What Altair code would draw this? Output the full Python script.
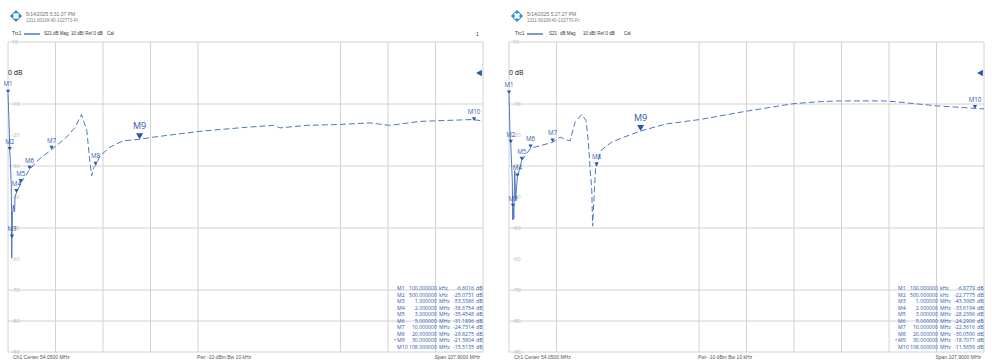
import altair as alt
import pandas as pd

# ---------------- data ----------------
START_MHZ = 0.1
STOP_MHZ = 108.0

marker_names = ["M1", "M2", "M3", "M4", "M5", "M6", "M7", "M8", "M9", "M10"]
marker_freq_mhz = [0.1, 0.5, 1, 2, 3, 5, 10, 20, 30, 108]
marker_stim_text = ["100.000000", "500.000000", "1.000000", "2.000000", "3.000000",
                    "5.000000", "10.000000", "20.000000", "30.000000", "108.000000"]
marker_stim_unit = ["kHz", "kHz", "MHz", "MHz", "MHz", "MHz", "MHz", "MHz", "MHz", "MHz"]
left_marker_db = [-6.6016, -25.0731, -53.3386, -38.6754, -35.4548,
                  -31.1896, -24.7314, -29.8275, -21.3804, -15.5135]
right_marker_db = [-6.8779, -22.7775, -43.3985, -33.6194, -28.2396,
                   -24.2906, -22.3616, -30.0590, -18.7071, -11.5659]

left_trace_freq = [0.1, 0.3, 0.42, 0.5, 0.65, 0.84, 0.9, 0.95, 1.0, 1.1, 1.3, 1.6, 1.7, 2.0,
                   3.0, 5.0, 7.0, 10.0, 13.4, 15.3, 16.8, 18.0, 18.6, 19.1, 19.6, 20.0, 21.0,
                   23.3, 26.2, 30.0, 33.1, 43.7, 54.3, 60.4, 61.9, 68.0, 75.5, 82.3, 86.9,
                   93.7, 99.8, 105.8, 108.0]
left_trace_db = [-6.6, -14.8, -19.4, -25.07, -29.0, -36.1, -44.0, -59.7, -53.34, -46.0, -42.6,
                 -44.8, -40.0, -38.68, -35.45, -31.19, -28.0, -24.73, -20.7, -17.6, -13.4,
                 -18.6, -27.3, -33.2, -30.5, -29.83, -26.7, -23.9, -21.9, -21.38, -20.7,
                 -18.8, -17.5, -16.9, -17.7, -16.9, -16.6, -16.1, -16.9, -15.6, -15.3,
                 -15.0, -15.51]

right_trace_freq = [0.1, 0.3, 0.4, 0.5, 0.6, 0.85, 0.95, 1.0, 1.2, 1.4, 1.6, 2.0, 3.0, 5.0,
                    10.0, 11.7, 13.2, 14.0, 15.1, 16.6, 17.6, 18.1, 18.5, 18.9, 19.1, 19.5,
                    19.8, 20.0, 21.0, 23.3, 26.2, 30.0, 35.9, 43.5, 54.1, 64.7, 70.0, 75.3,
                    85.1, 88.2, 97.2, 106.0, 108.0]
right_trace_db = [-6.88, -18.4, -21.6, -22.78, -26.5, -34.5, -47.4, -43.4, -47.0, -31.5,
                  -41.0, -33.62, -28.24, -24.29, -22.36, -20.7, -21.6, -21.8, -15.9, -13.4,
                  -15.3, -21.8, -30.5, -37.7, -49.4, -37.7, -29.6, -30.06, -25.0, -22.4,
                  -20.7, -18.71, -16.4, -15.0, -12.3, -9.9, -9.3, -9.0, -9.0, -9.3, -10.6,
                  -11.4, -11.57]

y_tick_values = [10, -10, -20, -30, -40, -50, -60, -70, -80, -90]
y_tick_labels = ["10", "-10", "-20", "-30", "-40", "-50", "-60", "-70", "-80", "-90"]
h_grid_db = [10, -10, -30, -50, -70, -80, -90]
left_vgrid_div = [0, 1, 2, 3, 4, 7, 8, 9, 10]
right_vgrid_div = [0, 1, 4, 5, 6, 7, 8, 9, 10]

# ---------------- style / layout ----------------
FONT = "Open Sans"
HFONT = "Liberation Sans"
TRACE = "#4f76c6"
MK = "#2b56ad"
GRID = "#d2d2d2"
PANEL_W, PANEL_H = 496, 361
PLOT_W = 475
PLOT_TOP = 42
PX_PER_DB = 3.1
DB_TOP, DB_BOT = 10, -90
ONE = pd.DataFrame({"a": [0]})


def txt(s, x, y, size=5.0, color="#555555", align="left", baseline="middle", font=FONT, **kw):
    return alt.Chart(pd.DataFrame({"t": [s]})).mark_text(
        align=align, baseline=baseline, fontSize=size, color=color, font=font, **kw
    ).encode(x=alt.value(x), y=alt.value(y), text="t:N")


def panel(trace_f, trace_db, mk_db, plot_left, stamp, hdr, vgrid_div, chan_no):
    k = (STOP_MHZ - START_MHZ) / PLOT_W
    xdom = [START_MHZ - plot_left * k, STOP_MHZ + (PANEL_W - plot_left - PLOT_W) * k]
    plot_h = (DB_TOP - DB_BOT) * PX_PER_DB
    ydom = [DB_BOT - (PANEL_H - PLOT_TOP - plot_h) / PX_PER_DB, DB_TOP + PLOT_TOP / PX_PER_DB]
    xs = alt.Scale(domain=xdom, nice=False, zero=False)
    ys = alt.Scale(domain=ydom, nice=False, zero=False)

    def X(f):
        return alt.X(f, type="quantitative", scale=xs, axis=None)

    def Y(f):
        return alt.Y(f, type="quantitative", scale=ys, axis=None)

    layers = []
    # grid
    dv = pd.DataFrame({"f": [START_MHZ + d * (STOP_MHZ - START_MHZ) / 10 for d in vgrid_div],
                       "top": DB_TOP, "bot": DB_BOT})
    layers.append(alt.Chart(dv).mark_rule(color=GRID, strokeWidth=1).encode(
        x=X("f"), y=Y("top"), y2="bot:Q"))
    dh = pd.DataFrame({"db": h_grid_db, "f0": START_MHZ, "f1": STOP_MHZ})
    layers.append(alt.Chart(dh).mark_rule(color=GRID, strokeWidth=1).encode(
        y=Y("db"), x=X("f0"), x2="f1:Q"))
    # tick labels
    dt = pd.DataFrame({"v": y_tick_values, "lab": y_tick_labels})
    layers.append(alt.Chart(dt).mark_text(align="left", baseline="middle", fontSize=5.5,
                                          color="#b4b4b4", font=FONT).encode(
        x=alt.value(plot_left + 3.5), y=Y("v"), text="lab:N"))
    layers.append(txt("0 dB", plot_left, 73, size=7, color="#111111"))

    # trace
    dtr = pd.DataFrame({"f": trace_f, "db": trace_db, "i": list(range(len(trace_f)))})
    base_t = alt.Chart(dtr)
    layers.append(base_t.transform_filter("datum.f <= 3").mark_line(
        color=TRACE, strokeWidth=1).encode(x=X("f"), y=Y("db"), order="i:Q"))
    layers.append(base_t.transform_filter("datum.f >= 3").mark_line(
        color=TRACE, strokeWidth=1, strokeDash=[6, 3]).encode(x=X("f"), y=Y("db"), order="i:Q"))

    # reference level triangle
    dref = pd.DataFrame({"f": [STOP_MHZ], "db": [0]})
    layers.append(alt.Chart(dref).mark_point(shape="triangle-left", filled=True, size=45,
                                             color=MK, opacity=1, xOffset=-4).encode(
        x=X("f"), y=Y("db")))

    # markers
    dm = pd.DataFrame({"name": marker_names, "f": marker_freq_mhz, "db": mk_db})
    bm = alt.Chart(dm)
    normal = "datum.name != 'M9' && datum.name != 'M10'"
    layers.append(bm.transform_filter(normal).mark_point(
        shape="triangle-down", filled=True, size=18, color=MK, opacity=1, yOffset=-2).encode(
        x=X("f"), y=Y("db")))
    layers.append(bm.transform_filter(normal).mark_text(
        dy=-9, fontSize=6.2, color=MK, font=FONT).encode(x=X("f"), y=Y("db"), text="name:N"))
    layers.append(bm.transform_filter("datum.name == 'M10'").mark_point(
        shape="triangle-down", filled=True, size=18, color=MK, opacity=1, yOffset=-2,
        xOffset=-9).encode(x=X("f"), y=Y("db")))
    layers.append(bm.transform_filter("datum.name == 'M10'").mark_text(
        dy=-9, dx=-9, fontSize=6.2, color=MK, font=FONT).encode(
        x=X("f"), y=Y("db"), text="name:N"))
    layers.append(bm.transform_filter("datum.name == 'M9'").mark_point(
        shape="triangle-down", filled=True, size=50, color=MK, opacity=1, yOffset=-3).encode(
        x=X("f"), y=Y("db")))
    layers.append(bm.transform_filter("datum.name == 'M9'").mark_text(
        dy=-13, fontSize=9, color=MK, font=FONT).encode(x=X("f"), y=Y("db"), text="name:N"))

    # marker table (one multi-line text per column)
    t_top, rh = 286, 6.5
    columns = [
        ("\n".join(marker_names), "left", 389),
        ("\n".join(marker_stim_text), "right", 429),
        ("\n".join(marker_stim_unit), "left", 431),
        ("\n".join(f"{v:.4f}" for v in mk_db), "right", 466),
        ("\n".join("dB" for _ in mk_db), "left", 468),
    ]
    for s, al, dx in columns:
        layers.append(txt(s, plot_left + dx, t_top, size=5.2, color=MK, align=al,
                          baseline="top", lineBreak="\n", lineHeight=rh))
    layers.append(txt("\u2022", plot_left + 388, t_top + rh * marker_names.index("M9"),
                      size=5.2, color=MK, align="right", baseline="top"))

    # header
    lx, ly = hdr["logo"]
    layers.append(alt.Chart(ONE).mark_point(
        shape="diamond", filled=True, size=150, color="#2e8fd6", opacity=1).encode(
        x=alt.value(lx), y=alt.value(ly)))
    layers.append(alt.Chart(ONE).mark_point(
        shape="cross", filled=True, size=45, color="#ffffff", opacity=1, angle=45).encode(
        x=alt.value(lx), y=alt.value(ly)))
    layers.append(txt(stamp[0], hdr["date"], 14, size=5, color="#707070", font=HFONT))
    layers.append(txt(stamp[1], hdr["date"], 21, size=4.6, color="#808080", font=HFONT))
    layers.append(txt("Trc1", hdr["trc"], 34, size=4.8, color="#333333", font=HFONT))
    layers.append(alt.Chart(ONE).mark_rule(color=TRACE, strokeWidth=1.5).encode(
        x=alt.value(hdr["line"][0]), x2=alt.value(hdr["line"][1]), y=alt.value(34)))
    layers.append(txt("S21", hdr["s21"], 34, size=4.5, color="#333333", font=HFONT))
    layers.append(txt("dB Mag", hdr["mag"], 34, size=4.5, color="#333333", font=HFONT))
    layers.append(txt("10 dB/ Ref 0 dB", hdr["ref"], 34, size=4.5, color="#333333", font=HFONT))
    layers.append(txt("Cal", hdr["cal"], 34, size=4.5, color="#333333", font=HFONT))
    if chan_no:
        layers.append(txt("1", plot_left + 468, 34, size=5, color="#333333", font=HFONT))

    # footer
    layers.append(txt("Ch1  Center  54.0500 MHz", plot_left + 5, 357, size=5, font=HFONT))
    layers.append(txt("Pwr  -10 dBm   Bw  10 kHz", plot_left + 189, 357, size=5, font=HFONT))
    layers.append(txt("Span  107.9000 MHz", plot_left + PLOT_W - 3, 357, size=5, align="right",
                      font=HFONT))

    return alt.layer(*layers).properties(width=PANEL_W, height=PANEL_H)


left = panel(left_trace_freq, left_trace_db, left_marker_db, 8,
             ("5/14/2025 5:31:37 PM", "1311.6010K40-102773-Fr"),
             dict(logo=(16, 16), date=26, trc=12, line=(24, 40), s21=44, mag=53, ref=71, cal=107),
             left_vgrid_div, True)
right = panel(right_trace_freq, right_trace_db, right_marker_db, 13,
              ("5/14/2025 5:27:27 PM", "1311.6010K40-102770-Fr"),
              dict(logo=(21, 16), date=31, trc=19, line=(31, 47), s21=53, mag=64, ref=87, cal=128),
              right_vgrid_div, False)

chart = alt.hconcat(left, right, spacing=0).configure_view(stroke=None).properties(
    padding=0, background="#ffffff")

chart.save("out.html", embed_options={"renderer": "svg", "actions": False})
